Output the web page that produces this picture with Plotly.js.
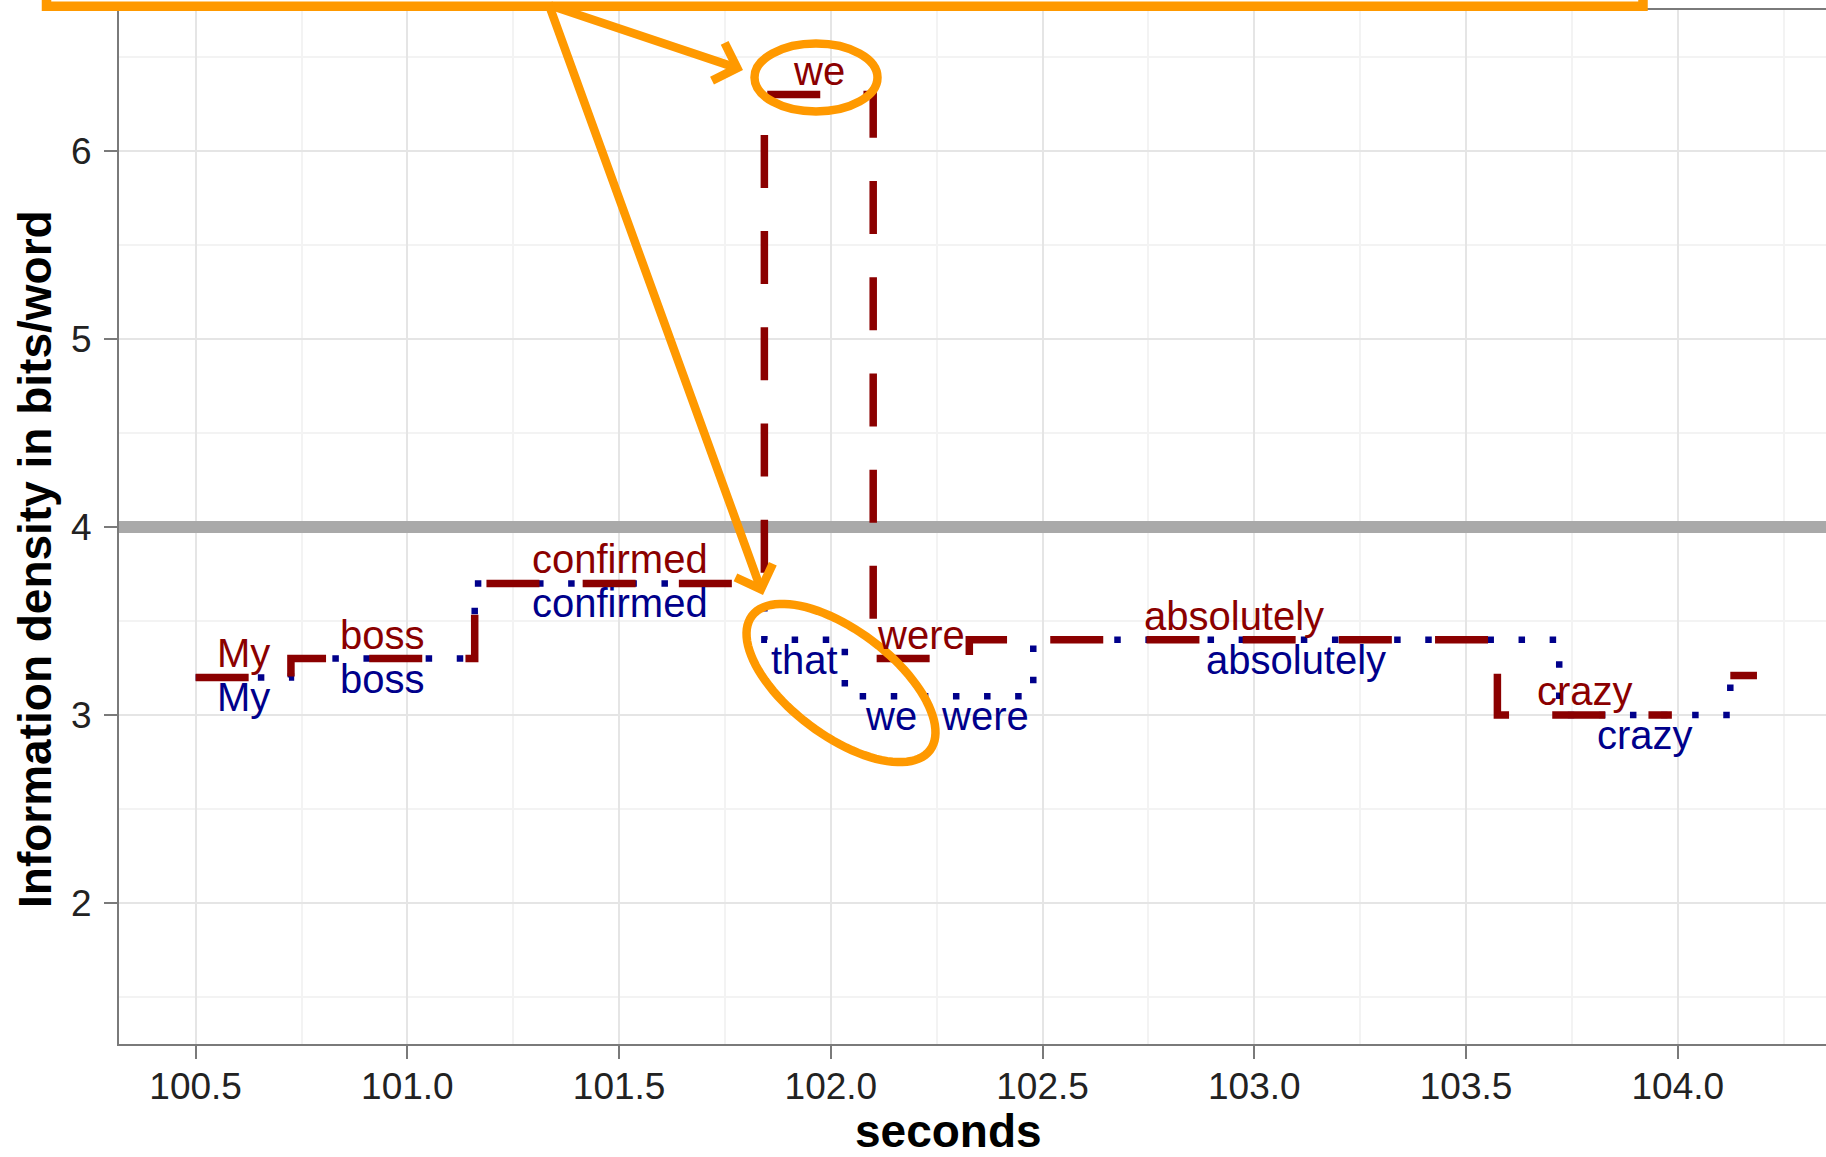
<!DOCTYPE html>
<html>
<head>
<meta charset="utf-8">
<script src="https://cdn.plot.ly/plotly-3.0.1.min.js"></script>
<style>html,body{margin:0;padding:0;background:#fff;overflow:hidden}</style>
</head>
<body>
<div id="chart" style="width:1826px;height:1157px"></div>
<script>
// ---------------- data ----------------
// Red series (dashed): step function, word boundaries in seconds
const redX = [100.5, 100.725, 101.159, 101.843, 102.1, 102.327, 103.574, 103.986, null, 104.124, 104.187];
const redY = [3.2, 3.3, 3.7, 6.3, 3.3, 3.4, 3.0, 3.0, null, 3.21, 3.21];
// Blue series (dotted)
const blueX = [100.5, 100.725, 101.159, 101.843, 102.033, 102.25, 102.478, 103.72, 104.124, 104.187];
const blueY = [3.2, 3.3, 3.7, 3.4, 3.1, 3.1, 3.4, 3.0, 3.21, 3.21];
// Word labels
const redWords  = ["My", "boss", "confirmed", "we", "were", "absolutely", "crazy"];
const redWordX  = [100.613, 100.942, 101.501, 101.972, 102.214, 102.951, 103.78];
const redWordY  = [3.2, 3.3, 3.7, 6.3, 3.3, 3.4, 3.0];
const blueWords = ["My", "boss", "confirmed", "that", "we", "were", "absolutely", "crazy"];
const blueWordX = [100.613, 100.942, 101.501, 101.938, 102.141, 102.364, 103.099, 103.922];
const blueWordY = [3.2, 3.3, 3.7, 3.4, 3.1, 3.1, 3.4, 3.0];
// reference level (4 bits/word)
const refLevel = 4;
// axes
const xRange = [100.319, 104.35];
const yRange = [1.25, 6.75];
const xTitle = "seconds";
const yTitle = "Information density in bits/word";

// ---------------- layout geometry ----------------
const W = 1826, H = 1157;
const M = {l: 119, r: 0, t: 10, b: 113};
const PW = W - M.l - M.r, PH = H - M.t - M.b;
const px = X => (X - M.l) / PW;          // pixel -> paper x
const py = Y => (H - M.b - Y) / PH;      // pixel -> paper y

const RED = "#8B0000", BLUE = "#00008B", ORANGE = "#FF9900";
const FONT = "Liberation Sans, Arial, Helvetica, sans-serif";

const traces = [
  {x: xRange, y: [refLevel, refLevel], type: "scatter", mode: "lines", line: {color: "#a9a9a9", width: 12}, hoverinfo: "skip", showlegend: false, cliponaxis: true},
  {x: blueX, y: blueY, type: "scatter", mode: "lines", line: {shape: "hv", color: BLUE, width: 6.5, dash: "6.5px,24.6px"}, connectgaps: false, hoverinfo: "skip", showlegend: false},
  {x: redX, y: redY, type: "scatter", mode: "lines", line: {shape: "hv", color: RED, width: 7.5, dash: "53px,43.2px"}, connectgaps: false, hoverinfo: "skip", showlegend: false}
];

function ellipsePath(cx, cy, a, b, deg) {
  const th = deg * Math.PI / 180;
  let d = "";
  for (let i = 0; i <= 96; i++) {
    const t = 2 * Math.PI * i / 96;
    const ex = a * Math.cos(t), ey = b * Math.sin(t);
    const X = cx + ex * Math.cos(th) - ey * Math.sin(th);
    const Y = cy + ex * Math.sin(th) + ey * Math.cos(th);
    d += (i ? "L" : "M") + px(X).toFixed(5) + "," + py(Y).toFixed(5);
  }
  return d + "Z";
}

const shapes = [
  // orange callout overlay
  {type: "rect", xref: "paper", yref: "paper", x0: px(46.5), x1: px(1643), y0: py(6.3), y1: py(-300), line: {color: ORANGE, width: 9.5}, fillcolor: "rgba(0,0,0,0)", layer: "above"},
  {type: "circle", xref: "paper", yref: "paper", x0: px(816 - 61.5), x1: px(816 + 61.5), y0: py(77.5 + 34), y1: py(77.5 - 34), line: {color: ORANGE, width: 8.5}, fillcolor: "rgba(0,0,0,0)", layer: "above"},
  {type: "path", xref: "paper", yref: "paper", path: ellipsePath(841, 683, 111.5, 52.5, 37), line: {color: ORANGE, width: 8.5}, fillcolor: "rgba(0,0,0,0)", layer: "above"}
];

const annotations = [];
redWords.forEach((w, i) => annotations.push({
  x: redWordX[i], y: redWordY[i], xref: "x", yref: "y", text: w, showarrow: false,
  xanchor: "center", yanchor: "bottom", yshift: 0,
  font: {family: FONT, size: 40, color: RED}
}));
blueWords.forEach((w, i) => annotations.push({
  x: blueWordX[i], y: blueWordY[i], xref: "x", yref: "y", text: w, showarrow: false,
  xanchor: "center", yanchor: "top", yshift: 4,
  font: {family: FONT, size: 40, color: BLUE}
}));
// arrows
[[743, 70], [763, 595]].forEach(tip => annotations.push({
  xref: "paper", yref: "paper", x: px(tip[0]), y: py(tip[1]),
  ax: 549 - tip[0], ay: 5 - tip[1], axref: "pixel", ayref: "pixel",
  text: "", showarrow: true, arrowhead: 4, arrowsize: 0.9, arrowwidth: 8.5,
  arrowcolor: ORANGE, standoff: 0
}));
// axis titles
annotations.push({xref: "paper", yref: "paper", x: px(948), y: py(1131), text: "<b>" + xTitle + "</b>", showarrow: false, xanchor: "center", yanchor: "middle", font: {family: FONT, size: 46, color: "#000"}});
annotations.push({xref: "paper", yref: "paper", x: px(35), y: py(559), text: "<b>" + yTitle + "</b>", showarrow: false, textangle: -90, xanchor: "center", yanchor: "middle", font: {family: FONT, size: 46, color: "#000"}});

const axisCommon = {
  showline: true, linecolor: "#7a7a7a", linewidth: 2,
  ticks: "outside", ticklen: 13, tickwidth: 2, tickcolor: "#7a7a7a",
  showgrid: true, gridcolor: "#e5e5e5", gridwidth: 2,
  zeroline: false,
  tickfont: {family: FONT, size: 37, color: "#222"}
};

const layout = {
  width: W, height: H,
  margin: M,
  paper_bgcolor: "#fff", plot_bgcolor: "#fff",
  showlegend: false,
  xaxis: Object.assign({}, axisCommon, {
    range: xRange, tick0: 100.5, dtick: 0.5, tickformat: ".1f",
    mirror: true, ticklabelstandoff: -4,
    minor: {tick0: 100.25, dtick: 0.25, showgrid: true, gridcolor: "#f3f3f3", gridwidth: 2, ticks: ""}
  }),
  yaxis: Object.assign({}, axisCommon, {
    range: yRange, tick0: 2, dtick: 1, ticklabelstandoff: 5,
    minor: {tick0: 1.5, dtick: 0.5, showgrid: true, gridcolor: "#f3f3f3", gridwidth: 2, ticks: ""}
  }),
  shapes: shapes,
  annotations: annotations
};

Plotly.newPlot("chart", traces, layout, {staticPlot: true, displayModeBar: false});
</script>
</body>
</html>
